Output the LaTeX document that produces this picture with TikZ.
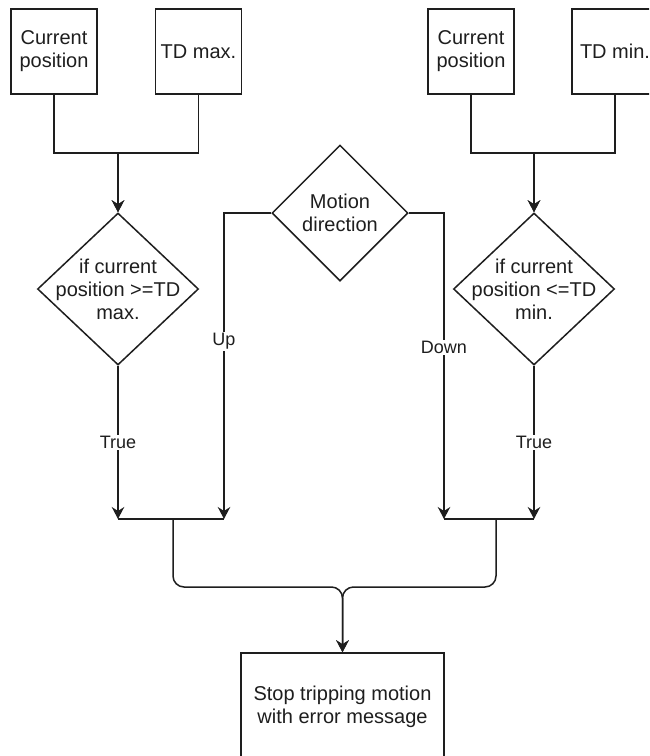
\documentclass[tikz,border=0pt]{standalone}
\usepackage{fontspec}
\setmainfont{Liberation Sans}
\usetikzlibrary{shapes.geometric,arrows.meta}
\definecolor{ink}{HTML}{1E1E1E}
\newcommand{\boxfont}{\fontsize{20}{23}\selectfont}
\newcommand{\edgefont}{\fontsize{18}{21}\selectfont}
\begin{document}
\begin{tikzpicture}[x=1pt,y=-1pt,
  wire/.style={draw=ink, line width=1.5pt},
  flow/.style={wire, -{Stealth[length=12pt,width=12.5pt,inset=4pt]}},
  box/.style={wire, rectangle, minimum width=86pt, minimum height=85pt,
    inner sep=0pt, align=center, font=\boxfont, text=ink},
  decision/.style={wire, diamond, inner sep=0pt},
  cond/.style={align=center, font=\boxfont, text=ink, inner sep=0pt},
  edgelabel/.style={fill=white, font=\edgefont, text=ink, inner sep=1.5pt}]

\clip (0,0) rectangle (649,756);
\fill[white] (0,0) rectangle (649,756);

% inputs
\node[box] (cpA)   at (54,51.5)    {Current\\position};
\node[box] (tdmax) at (198.5,51.5) {TD max.};
\node[box] (cpB)   at (471,51.5)   {Current\\position};
\node[box] (tdmin) at (615,51.5)   {TD min.};

% decisions
\node[decision, minimum width=161pt, minimum height=152pt,
  label={[cond]center:if current\\position >=TD\\max.}] (chkmax) at (118,289) {};
\node[decision, minimum width=136pt, minimum height=136pt,
  label={[cond]center:Motion\\direction}] (motion) at (340,213) {};
\node[decision, minimum width=161pt, minimum height=152pt,
  label={[cond]center:if current\\position <=TD\\min.}] (chkmin) at (534,289) {};

% result
\node[box, minimum width=203pt, minimum height=108pt] (stop) at (342.5,707)
  {Stop tripping motion\\with error message};

% junction points
\coordinate (joinA) at (118,153);
\coordinate (joinB) at (534,153);
\coordinate (barL1) at (118,519);
\coordinate (barL2) at (224,519);
\coordinate (barLm) at (173,519);
\coordinate (barR1) at (444,519);
\coordinate (barR2) at (534,519);
\coordinate (barRm) at (496,519);
\coordinate (merge) at (342.5,587);

% inputs into the checks
\draw[flow] (cpA.south) |- (joinA) -- (chkmax.north);
\draw[flow] (tdmax.south) |- (joinA) -- (chkmax.north);
\draw[flow] (cpB.south) |- (joinB) -- (chkmin.north);
\draw[flow] (tdmin.south) |- (joinB) -- (chkmin.north);

% branches
\draw[flow] (chkmax.south) -- node[edgelabel] {True} (barL1);
\draw[flow] (chkmin.south) -- node[edgelabel] {True} (barR2);
\draw[flow] (motion.west) -| node[edgelabel, pos=0.71] {Up} (barL2);
\draw[flow] (motion.east) -| node[edgelabel, pos=0.72] {Down} (barR1);

% gathering bars
\draw[wire] (barL1) -- (barL2);
\draw[wire] (barR1) -- (barR2);

% into the result
\draw[flow, rounded corners=11pt] (barLm) |- (merge) -- (stop.north);
\draw[flow, rounded corners=11pt] (barRm) |- (merge) -- (stop.north);
\end{tikzpicture}
\end{document}
